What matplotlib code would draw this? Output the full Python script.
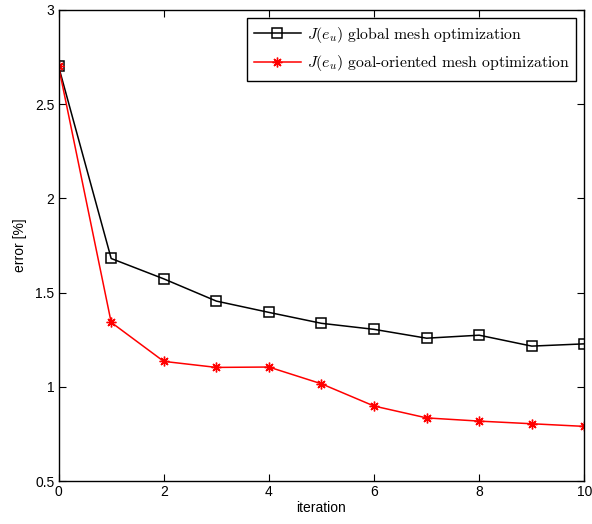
import numpy as np
import matplotlib
matplotlib.use("Agg")
import matplotlib.pyplot as plt
from matplotlib.ticker import FuncFormatter

plt.rcParams['font.family'] = ['Liberation Sans', 'DejaVu Sans']
plt.rcParams['mathtext.fontset'] = 'cm'

iterations = np.arange(0, 11)
global_err = [2.70, 1.681, 1.573, 1.455, 1.395, 1.337, 1.305, 1.258, 1.274, 1.216, 1.228]
goal_err = [2.70, 1.342, 1.135, 1.103, 1.105, 1.016, 0.898, 0.835, 0.818, 0.804, 0.790]

labels = [r'$J(e_u)$ global mesh optimization',
          r'$J(e_u)$ goal-oriented mesh optimization']

fig = plt.figure(figsize=(5.92, 5.24), dpi=100)
ax = fig.add_axes([0.099, 0.082, 0.888, 0.899])

ax.plot(iterations, global_err, color='black', lw=1.1, marker='s',
        markersize=6.5, markerfacecolor='none', markeredgewidth=1.1,
        label=labels[0])
ax.plot(iterations, goal_err, color='red', lw=1.1, marker=(8, 2, 0),
        markersize=7, markeredgewidth=1.0, label=labels[1])

ax.set_xlim(0, 10)
ax.set_ylim(0.5, 3)
ax.set_xticks(range(0, 11, 2))
ax.set_yticks(np.arange(0.5, 3.01, 0.5))
ax.yaxis.set_major_formatter(FuncFormatter(lambda v, p: f'{v:g}'))
ax.tick_params(direction='in', top=True, right=True, labelsize=10,
               length=5, width=0.8, pad=3)
for s in ax.spines.values():
    s.set_linewidth(1.0)

ax.set_xlabel('iteration', fontsize=10, labelpad=1)
ax.set_ylabel('error [%]', fontsize=10, labelpad=6)

leg = ax.legend(loc='upper right', prop={'family': 'cmr10', 'size': 11.3},
                fancybox=False, edgecolor='black', framealpha=1,
                borderaxespad=0.5, handlelength=3.0, handletextpad=0.35,
                labelspacing=0.55, borderpad=0.45)
leg.get_frame().set_linewidth(1.0)

fig.savefig('out.png', dpi=100)
